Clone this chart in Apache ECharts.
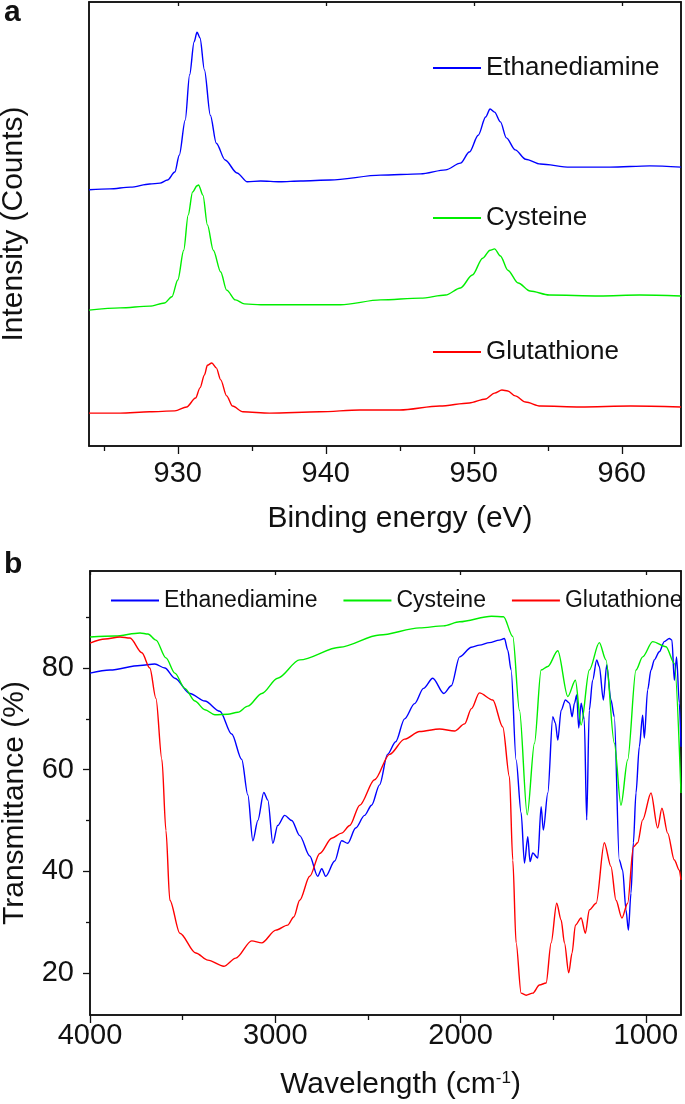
<!DOCTYPE html>
<html><head><meta charset="utf-8">
<script src="https://cdn.jsdelivr.net/npm/echarts@6/dist/echarts.min.js"></script>
<style>html,body{margin:0;padding:0;background:#fff}#c{width:685px;height:1104px}</style>
</head><body><div id="c"></div>
<script>
// ---------- Panel a: XPS (Cu 2p) ----------
const xpsNames = ['Ethanediamine', 'Cysteine', 'Glutathione'];
const xpsTicks = [930, 940, 950, 960];
const xpsMinorTicks = [925, 935, 945, 955];

const ethEV = [924.0,925.4,926.8,928.1,928.8,929.3,929.8,930.1,930.5,930.8,931.1,931.3,931.5,931.8,932.2,932.6,933.2,934.0,934.7,935.6,936.9,938.3,940.3,943.7,946.4,948.1,949.1,949.7,950.3,950.8,951.1,951.4,951.8,952.2,952.8,953.5,954.5,956.5,959.2,961.9,964.0];
const ethI  = [57.7,57.9,58.3,59.0,59.2,59.9,61.7,65.5,73.4,83.6,91.0,93.2,91.9,84.7,74.5,68.2,64.4,61.5,59.5,59.7,59.5,59.7,59.9,61.0,61.3,62.2,63.7,66.2,70.0,74.1,75.9,75.2,73.0,69.4,66.7,64.6,63.5,62.8,62.8,63.1,62.8];

const cysEV = [924.0,926.1,928.1,929.1,929.6,930.0,930.4,930.7,931.0,931.3,931.4,931.7,932.0,932.4,932.9,933.3,933.9,934.5,935.6,938.3,941.0,943.7,946.4,948.1,949.1,949.9,950.6,951.1,951.4,951.8,952.3,953.0,953.8,955.1,958.5,961.2,964.0];
const cysI  = [30.6,31.1,31.5,32.2,33.6,37.4,44.1,52.0,57.2,58.6,58.8,56.5,49.8,44.1,39.2,35.1,32.9,32.0,31.8,31.8,31.8,32.9,33.3,34.0,35.6,38.5,42.3,44.1,44.4,42.8,39.6,36.7,34.9,34.0,33.8,34.0,33.8];

const gluEV = [924.0,926.1,928.1,929.8,930.6,931.2,931.5,931.8,932.0,932.3,932.6,932.9,933.3,933.7,934.4,936.2,939.6,942.3,945.0,947.7,949.7,950.8,951.4,951.9,952.3,952.8,953.5,954.5,957.2,960.6,964.0];
const gluI  = [7.4,7.4,7.7,7.9,8.8,10.8,13.1,16.0,18.2,18.7,17.6,14.9,11.3,9.0,7.7,7.4,7.7,8.1,8.1,9.0,9.7,10.6,11.9,12.6,12.4,11.3,9.9,9.0,8.8,9.0,8.8];

// ---------- Panel b: FTIR ----------
const irTicks = [1000, 2000, 3000, 4000];
const irMinorTicks = [1500, 2500, 3500];
const irYTicks = [20, 40, 60, 80];
const irYMinorTicks = [30, 50, 70, 90];

const ethWn = [4000,3892,3730,3650,3596,3542,3461,3380,3299,3235,3181,3148,3121,3094,3062,3040,3013,2987,2949,2911,2868,2814,2771,2749,2728,2679,2642,2609,2566,2518,2480,2437,2394,2350,2302,2248,2200,2150,2090,2050,2005,1941,1898,1844,1790,1763,1745,1727,1700,1673,1655,1637,1625,1610,1583,1565,1553,1529,1502,1488,1475,1457,1434,1412,1398,1385,1373,1362,1349,1332,1319,1305,1287,1265,1251,1229,1211,1188,1170,1143,1125,1107,1094,1080,1067,1053,1035,1017,1008,990,972,954,927,900,873,859,846,834,819,810];
const ethT  = [79.0,79.6,80.5,80.8,80.0,78.0,75.0,73.5,71.5,67.0,62.0,55.0,46.0,50.0,55.5,54.0,45.5,49.0,51.0,50.0,47.0,43.0,39.0,40.5,39.0,42.0,46.0,45.5,48.5,51.0,53.0,57.0,63.0,65.5,70.0,73.0,76.0,78.0,75.0,76.5,82.2,84.1,84.5,85.0,85.5,85.8,83.5,79.6,61.9,51.5,41.6,46.8,41.9,43.6,42.6,52.7,48.1,55.4,70.4,69.2,65.8,71.7,73.7,73.1,70.4,73.1,74.7,68.2,73.1,69.8,50.1,71.7,77.6,81.6,80.3,73.7,80.6,73.7,70.4,42.2,40.2,32.4,28.4,35.7,45.6,55.4,64.5,70.7,66.2,75.7,79.6,81.6,83.2,85.2,85.8,85.5,77.6,82.2,73.1,64.5];

const cysWn = [4000,3865,3730,3687,3644,3590,3542,3488,3434,3380,3326,3256,3202,3148,3073,2987,2868,2652,2437,2221,2092,2005,1833,1768,1718,1682,1640,1601,1565,1529,1475,1421,1380,1349,1305,1251,1215,1170,1134,1098,1053,1017,963,891,846,810];
const cysT  = [86.1,86.3,86.9,86.7,85.5,82.0,79.0,76.0,73.5,71.8,70.8,70.9,71.3,72.5,75.0,78.0,81.6,84.1,86.5,87.9,88.3,89.1,90.2,90.1,86.2,71.7,51.1,65.2,79.6,80.3,83.4,74.4,77.6,68.8,79.6,85.0,81.6,65.2,53.0,61.9,79.6,82.2,85.2,84.2,80.9,55.4];

const gluWn = [4000,3919,3838,3784,3720,3677,3644,3612,3590,3569,3515,3429,3364,3278,3213,3127,3073,2997,2933,2900,2868,2814,2760,2695,2642,2598,2544,2464,2383,2302,2221,2113,2032,1978,1941,1898,1826,1772,1736,1718,1700,1673,1646,1610,1574,1538,1511,1481,1457,1439,1416,1398,1380,1349,1326,1305,1268,1224,1188,1161,1129,1098,1067,1044,1017,972,936,913,882,846,819,810];
const gluT  = [84.9,85.7,86.1,85.9,83.0,80.0,74.0,62.0,48.0,34.3,27.8,23.9,22.5,21.3,22.9,26.3,25.9,28.4,29.4,31.0,34.3,39.0,43.5,46.5,47.5,49.0,53.0,58.0,63.0,66.0,67.5,68.0,67.6,69.0,72.0,75.1,73.7,68.4,58.6,42.2,25.9,16.0,15.6,16.0,17.6,18.0,25.9,33.7,30.4,25.9,20.0,23.9,29.4,30.8,27.8,32.4,33.7,45.6,40.9,34.3,30.8,33.7,44.8,45.6,50.1,55.4,48.5,52.4,47.5,42.2,40.2,38.3];

// ---------- Build chart ----------
const FONT = '"Liberation Sans", Arial, Helvetica, sans-serif';
const INK = '#111';
const COL = ['#0000ff', '#00ee00', '#ff0000'];
const pairs = (xs, ys) => xs.map((x, i) => [x, ys[i]]);
const plain = v => String(v);
const lineAx = { onZero: false, lineStyle: { color: INK, width: 1.5 } };
const tickStyle = { color: INK, width: 1.3 };

function lineSeries(name, xi, yi, data, color) {
  return { type: 'line', name, xAxisIndex: xi, yAxisIndex: yi, data, showSymbol: false, symbol: 'none',
    smooth: 0.3, smoothMonotone: 'x', lineStyle: { color, width: 1.4 }, itemStyle: { color }, z: 3 };
}

const chart = echarts.init(document.getElementById('c'), null, { renderer: 'canvas' });
const option = {
  backgroundColor: '#fff',
  animation: false,
  textStyle: { fontFamily: FONT, color: INK },
  grid: [
    { left: 89, top: 2, width: 592, height: 444, outerBoundsMode: 'none', containLabel: false, show: true, borderColor: INK, borderWidth: 1.5, backgroundColor: 'transparent' },
    { left: 90, top: 571, width: 591, height: 444, outerBoundsMode: 'none', containLabel: false, show: true, borderColor: INK, borderWidth: 1.5, backgroundColor: 'transparent' }
  ],
  xAxis: [
    { gridIndex: 0, type: 'value', min: 924, max: 964, position: 'bottom', axisLine: lineAx, splitLine: { show: false },
      axisTick: { customValues: xpsTicks, length: 8, lineStyle: tickStyle },
      axisLabel: { customValues: xpsTicks, formatter: plain, fontSize: 29, color: INK, margin: 13, fontFamily: FONT },
      name: 'Binding energy (eV)', nameLocation: 'middle', nameGap: 58,
      nameTextStyle: { fontSize: 30, color: INK, fontFamily: FONT, padding: [0, 0, 0, 30] } },
    { gridIndex: 0, type: 'value', min: 924, max: 964, position: 'bottom', axisLine: { show: false }, splitLine: { show: false },
      axisLabel: { show: false }, axisTick: { customValues: xpsMinorTicks, length: 5, lineStyle: tickStyle } },
    { gridIndex: 0, type: 'value', min: 924, max: 964, position: 'top', axisLine: lineAx, splitLine: { show: false },
      axisLabel: { show: false }, axisTick: { inside: true, customValues: xpsTicks, length: 4, lineStyle: tickStyle } },

    { gridIndex: 1, type: 'value', min: 810, max: 4000, inverse: true, position: 'bottom', axisLine: lineAx, splitLine: { show: false },
      axisTick: { customValues: irTicks, length: 8, lineStyle: tickStyle },
      axisLabel: { customValues: irTicks, formatter: plain, fontSize: 29, color: INK, margin: 6, fontFamily: FONT },
      name: 'Wavelength (cm{sup|-1})', nameLocation: 'middle', nameGap: 55,
      nameTextStyle: { fontSize: 30, color: INK, fontFamily: FONT, padding: [0, 0, 0, 30],
        rich: { sup: { fontSize: 17, color: INK, fontFamily: FONT, verticalAlign: 'top', padding: [0, 0, 12, 0] } } } },
    { gridIndex: 1, type: 'value', min: 810, max: 4000, inverse: true, position: 'bottom', axisLine: { show: false }, splitLine: { show: false },
      axisLabel: { show: false }, axisTick: { customValues: irMinorTicks, length: 5, lineStyle: tickStyle } },
    { gridIndex: 1, type: 'value', min: 810, max: 4000, inverse: true, position: 'top', axisLine: lineAx, splitLine: { show: false },
      axisLabel: { show: false }, axisTick: { inside: true, customValues: irTicks, length: 4, lineStyle: tickStyle } }
  ],
  yAxis: [
    { gridIndex: 0, type: 'value', min: 0, max: 100, position: 'left', axisLine: lineAx, splitLine: { show: false },
      axisTick: { show: false }, axisLabel: { show: false },
      name: 'Intensity (Counts)', nameLocation: 'middle', nameGap: 60, nameRotate: 90,
      nameTextStyle: { fontSize: 30, color: INK, fontFamily: FONT } },
    { gridIndex: 0, type: 'value', min: 0, max: 100, position: 'right', axisLine: lineAx, splitLine: { show: false },
      axisTick: { show: false }, axisLabel: { show: false } },

    { gridIndex: 1, type: 'value', min: 11.7, max: 99.1, position: 'left', axisLine: lineAx, splitLine: { show: false },
      axisTick: { customValues: irYTicks, length: 7, lineStyle: tickStyle },
      axisLabel: { customValues: irYTicks, formatter: plain, fontSize: 29, color: INK, margin: 16, fontFamily: FONT },
      name: 'Transmittance (%)', nameLocation: 'middle', nameGap: 60, nameRotate: 90,
      nameTextStyle: { fontSize: 30, color: INK, fontFamily: FONT, padding: [0, 20, 0, 0] } },
    { gridIndex: 1, type: 'value', min: 11.7, max: 99.1, position: 'left', axisLine: { show: false }, splitLine: { show: false },
      axisLabel: { show: false }, axisTick: { customValues: irYMinorTicks, length: 4, lineStyle: tickStyle } },
    { gridIndex: 1, type: 'value', min: 11.7, max: 99.1, position: 'right', axisLine: lineAx, splitLine: { show: false },
      axisLabel: { show: false }, axisTick: { show: false } }
  ],
  legend: [
    { data: [xpsNames[0]], left: 428, top: 50, icon: 'rect', itemWidth: 48, itemHeight: 2, selectedMode: false,
      textStyle: { fontSize: 26, color: INK, fontFamily: FONT } },
    { data: [xpsNames[1]], left: 428, top: 200, icon: 'rect', itemWidth: 48, itemHeight: 2, selectedMode: false,
      textStyle: { fontSize: 26, color: INK, fontFamily: FONT } },
    { data: [xpsNames[2]], left: 428, top: 334, icon: 'rect', itemWidth: 48, itemHeight: 2, selectedMode: false,
      textStyle: { fontSize: 26, color: INK, fontFamily: FONT } },
    { data: xpsNames, left: 106, top: 584, width: 640, orient: 'horizontal', icon: 'rect', itemWidth: 48, itemHeight: 2, itemGap: 26, selectedMode: false,
      textStyle: { fontSize: 23, color: INK, fontFamily: FONT } }
  ],
  graphic: [
    { type: 'text', left: 4, top: -2, style: { text: 'a', font: 'bold 30px "Liberation Sans", Arial, sans-serif', fill: INK } },
    { type: 'text', left: 4, top: 550, style: { text: 'b', font: 'bold 30px "Liberation Sans", Arial, sans-serif', fill: INK } }
  ],
  series: [
    lineSeries(xpsNames[0], 0, 0, pairs(ethEV, ethI), COL[0]),
    lineSeries(xpsNames[1], 0, 0, pairs(cysEV, cysI), COL[1]),
    lineSeries(xpsNames[2], 0, 0, pairs(gluEV, gluI), COL[2]),
    lineSeries(xpsNames[0], 3, 2, pairs(ethWn, ethT), COL[0]),
    lineSeries(xpsNames[1], 3, 2, pairs(cysWn, cysT), COL[1]),
    lineSeries(xpsNames[2], 3, 2, pairs(gluWn, gluT), COL[2])
  ]
};
chart.setOption(option);
</script>
</body></html>
